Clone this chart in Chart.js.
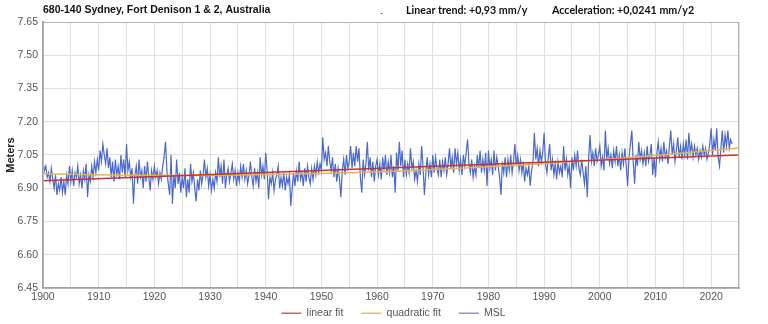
<!DOCTYPE html>
<html>
<head>
<meta charset="utf-8">
<script src="https://cdn.jsdelivr.net/npm/chart.js@4/dist/chart.umd.min.js"></script>
<style>
  html, body { margin: 0; padding: 0; background: #fff; }
  #wrap { width: 768px; height: 324px; }
</style>
</head>
<body>
<div id="wrap"><canvas id="chart" width="768" height="324"></canvas></div>
<script>
// monthly MSL at 4 samples per year
const firstYear = 1900;
const samplesPerYear = 4;
const mslValues = [
  7.02, 6.98, 7.00, 6.95,  6.97, 6.93, 6.99, 6.94,  6.90, 6.96, 6.87, 6.92,  6.89, 6.95, 6.88, 6.93,  6.87, 6.96, 6.92, 7.00,
  6.93, 6.98, 6.91, 6.97,  6.95, 7.00, 6.92, 6.96,  6.90, 6.98, 6.94, 7.01,  6.86, 6.96, 6.93, 7.00,  6.95, 7.02, 6.97, 7.03,
  6.98, 7.07, 7.02, 7.10,  7.05, 7.01, 7.08, 6.99,  7.04, 6.95, 7.02, 6.93,  7.03, 6.96, 7.00, 6.94,  7.05, 6.97, 7.03, 6.95,
  7.10, 6.98, 7.02, 6.95,  6.99, 6.83, 6.96, 7.00,  6.92, 7.03, 6.95, 6.98,  6.90, 7.00, 6.93, 7.02,  6.95, 6.89, 6.98, 6.94,
  7.00, 6.95, 6.98, 6.92,  6.97, 6.94, 7.00, 7.04,  7.11, 6.98, 6.92, 6.87,  7.05, 6.83, 6.96, 6.90,  7.03, 6.92, 6.97, 6.88,
  6.95, 6.90, 6.99, 6.86,  6.94, 6.88, 7.01, 6.93,  6.97, 6.90, 6.84, 6.94,  6.89, 6.98, 6.92, 6.96,  7.03, 6.95, 6.99, 6.91,
  6.96, 6.89, 6.94, 6.90,  6.97, 6.93, 7.04, 6.95,  7.00, 6.92, 7.03, 6.90,  6.96, 6.99, 6.93, 6.97,  7.01, 6.94, 6.98, 6.91,
  6.97, 6.93, 7.00, 6.95,  7.01, 6.94, 6.98, 6.92,  6.96, 7.02, 6.95, 6.91,  6.99, 6.93, 6.97, 6.90,  7.04, 6.96, 7.00, 6.94,
  7.06, 6.98, 6.85, 6.95,  6.92, 6.97, 6.89, 6.94,  6.96, 7.00, 6.90, 6.95,  6.91, 6.97, 6.89, 6.95,  6.92, 6.96, 6.82, 6.90,
  6.97, 6.91, 6.98, 6.93,  7.02, 6.94, 6.97, 6.91,  6.99, 6.93, 7.00, 6.95,  6.92, 6.99, 6.94, 7.00,  6.96, 7.02, 6.97, 7.01,
  6.98, 7.13, 7.03, 7.06,  7.00, 7.09, 7.02, 6.98,  7.04, 6.95, 7.01, 6.93,  6.99, 6.94, 6.86, 6.98,  7.03, 6.96, 7.05, 6.99,
  7.02, 7.09, 6.99, 7.06,  7.00, 7.09, 7.02, 7.08,  6.95, 6.88, 7.03, 6.96,  7.01, 7.11, 6.98, 7.04,  6.95, 7.02, 6.93, 7.00,
  7.03, 6.96, 7.01, 6.94,  7.04, 6.98, 7.05, 6.96,  7.02, 6.97, 7.05, 6.95,  7.00, 6.88, 7.06, 6.98,  7.11, 7.00, 7.07, 6.95,
  7.03, 6.96, 7.01, 6.97,  7.08, 6.99, 7.02, 6.94,  6.98, 6.93, 7.01, 6.96,  7.09, 7.00, 6.87, 6.97,  7.04, 6.96, 7.01, 6.95,
  7.05, 6.97, 7.04, 6.99,  6.96, 7.03, 6.95, 7.02,  6.98, 7.04, 6.96, 7.01,  7.08, 6.99, 7.04, 6.97,  7.08, 7.01, 7.06, 6.98,
  7.03, 6.96, 7.05, 7.00,  7.06, 7.12, 7.01, 6.97,  7.03, 6.95, 7.00, 6.96,  7.05, 6.99, 7.07, 6.97,  7.03, 6.98, 7.06, 6.91,
  7.07, 6.99, 7.03, 6.96,  7.07, 6.98, 7.04, 7.00,  6.95, 6.87, 7.02, 6.97,  7.04, 6.95, 7.03, 6.98,  7.05, 6.97, 7.02, 7.10,
  7.00, 7.05, 6.98, 7.03,  6.97, 7.02, 6.93, 6.99,  6.96, 7.00, 6.91, 6.98,  7.02, 7.15, 7.03, 7.08,  7.00, 7.07, 7.02, 7.06,
  7.15, 7.01, 6.97, 7.04,  7.10, 6.98, 7.03, 6.96,  7.01, 6.94, 7.02, 6.97,  7.00, 6.95, 7.09, 6.98,  7.03, 6.96, 7.00, 6.90,
  7.04, 6.98, 7.05, 7.00,  7.07, 6.99, 6.96, 7.03,  6.97, 6.92, 7.00, 6.86,  7.04, 7.14, 7.02, 7.06,  7.00, 7.08, 7.02, 7.05,
  7.09, 7.00, 7.04, 6.98,  7.16, 7.03, 7.08, 7.01,  7.05, 6.99, 7.07, 7.02,  7.09, 7.00, 7.05, 6.98,  7.06, 7.01, 7.08, 7.00,
  6.91, 7.04, 7.10, 7.16,  7.02, 6.92, 7.05, 7.00,  7.11, 7.03, 7.07, 7.01,  7.06, 7.00, 7.09, 7.02,  7.05, 7.10, 6.96, 7.04,
  6.95, 7.06, 7.11, 7.03,  7.08, 7.02, 7.11, 7.04,  7.07, 7.01, 7.09, 7.16,  7.05, 7.10, 7.02, 7.07,  7.13, 7.04, 7.09, 7.03,
  7.10, 7.05, 7.12, 7.03,  7.15, 7.06, 7.10, 7.04,  7.09, 7.05, 7.08, 7.03,  7.07, 7.04, 7.09, 7.05,  7.08, 7.03, 7.06, 7.10,
  7.17, 7.05, 7.12, 7.07,  7.17, 7.04, 7.00, 7.08,  7.16, 7.06, 7.14, 7.09,  7.16, 7.08, 7.12, 7.10
];

// fit lines (linear trend +0,93 mm/y, acceleration +0,0241 mm/y2)
const linearYears = [1900, 2025];
const linearFit = [6.934, 7.050];
const quadYears = [1900, 1912.5, 1925, 1937.5, 1950, 1962.5, 1975, 1987.5, 2000, 2012.5, 2025];
const quadFit = [6.965, 6.960, 6.958, 6.961, 6.967, 6.976, 6.990, 7.007, 7.028, 7.053, 7.082];

const seriesNames = ['linear fit', 'quadratic fit', 'MSL'];
const lineColors = ['#c83232', '#e3b64a', '#4a68d0'];
const legendColors = ['#b86a6a', '#dcc07a', '#8e98b0'];

const chartTitle = '680-140 Sydney, Fort Denison 1 & 2, Australia';
const trendText = 'Linear trend: +0,93 mm/y';
const accelText = 'Acceleration: +0,0241 mm/y2';

const mslPoints = mslValues.map((v, i) => ({ x: firstYear + i / samplesPerYear, y: v }));
const linPoints = linearYears.map((x, i) => ({ x: x, y: linearFit[i] }));
const quadPoints = quadYears.map((x, i) => ({ x: x, y: quadFit[i] }));

const FONT = '"Liberation Sans", Arial, sans-serif';

// legend sits low and a bit right of the default centre
const legendShift = { x: 24, y: -12, height: 22 };

const legendPlacer = {
  id: 'legendPlacer',
  beforeUpdate(chart) {
    const lg = chart.legend;
    if (!lg || lg._placed) return;
    const fit = lg.fit;
    const draw = lg.draw;
    lg.fit = function () { fit.call(this); this.height = legendShift.height; };
    lg.draw = function () {
      const saved = [this.left, this.top, this.right, this.bottom];
      this.left += legendShift.x;
      this.right += legendShift.x;
      this.top += legendShift.y;
      draw.call(this);
      [this.left, this.top, this.right, this.bottom] = saved;
    };
    lg._placed = true;
  }
};

const headerPlugin = {
  id: 'header',
  afterDraw(chart) {
    const ctx = chart.ctx;
    const a = chart.chartArea;
    ctx.save();
    // frame
    ctx.strokeStyle = '#b4b4b4';
    ctx.lineWidth = 1;
    ctx.strokeRect(a.left + 0.5, a.top + 0.5, a.right - a.left - 1, a.bottom - a.top);
    ctx.textBaseline = 'middle';
    ctx.fillStyle = '#111';
    ctx.font = 'bold 10.5px ' + FONT;
    ctx.fillText(chartTitle, 43, 10.5);
    ctx.font = 'bold 10.7px Lato, sans-serif';
    ctx.fillText(trendText, 406, 11);
    ctx.fillText(accelText, 552, 11);
    ctx.font = '9px ' + FONT;
    ctx.fillStyle = '#444';
    ctx.fillText('-', 380, 14);
    ctx.restore();
  }
};

new Chart(document.getElementById('chart'), {
  type: 'line',
  data: {
    datasets: [
      { label: seriesNames[0], data: linPoints, borderColor: lineColors[0], borderWidth: 1.5, pointRadius: 0, fill: false },
      { label: seriesNames[1], data: quadPoints, borderColor: lineColors[1], borderWidth: 1.5, pointRadius: 0, fill: false, cubicInterpolationMode: 'monotone' },
      { label: seriesNames[2], data: mslPoints, borderColor: lineColors[2], borderWidth: 1.2, pointRadius: 0, fill: false, tension: 0 }
    ]
  },
  options: {
    responsive: false,
    animation: false,
    layout: { padding: { top: 22, right: 29, left: 0, bottom: 0 } },
    plugins: {
      tooltip: { enabled: false },
      title: { display: false },
      legend: {
        display: true,
        position: 'bottom',
        labels: {
          usePointStyle: true,
          pointStyle: 'line',
          pointStyleWidth: 20,
          boxHeight: 10,
          padding: 18,
          color: '#555',
          font: { family: FONT, size: 10.5 },
          generateLabels(chart) {
            const items = Chart.defaults.plugins.legend.labels.generateLabels(chart);
            items.forEach((it, i) => { it.strokeStyle = legendColors[i]; it.lineWidth = 1.5; });
            return items;
          }
        }
      }
    },
    scales: {
      x: {
        type: 'linear',
        min: 1900,
        max: 2025,
        afterFit(scale) { scale.height = 14; },
        grid: { color: '#e0e0e0', drawTicks: false },
        border: { color: '#a0a0a0', width: 2 },
        ticks: {
          stepSize: 5,
          autoSkip: false,
          maxRotation: 0,
          padding: 3,
          color: '#555',
          font: { family: FONT, size: 10.5 },
          callback: (v) => (v % 10 === 0 ? String(v) : '')
        }
      },
      y: {
        min: 6.45,
        max: 7.65,
        afterFit(scale) { scale.width = 43; },
        grid: { color: '#e0e0e0', drawTicks: false },
        border: { color: '#a0a0a0', width: 2 },
        title: {
          display: true,
          text: 'Meters',
          color: '#222',
          font: { family: FONT, size: 11, weight: 'bold' },
          padding: { top: 4, bottom: 0 }
        },
        ticks: {
          stepSize: 0.15,
          padding: 5,
          color: '#555',
          font: { family: FONT, size: 10.5 },
          callback: (v) => Number(v).toFixed(2)
        }
      }
    }
  },
  plugins: [legendPlacer, headerPlugin]
});
</script>
</body>
</html>
